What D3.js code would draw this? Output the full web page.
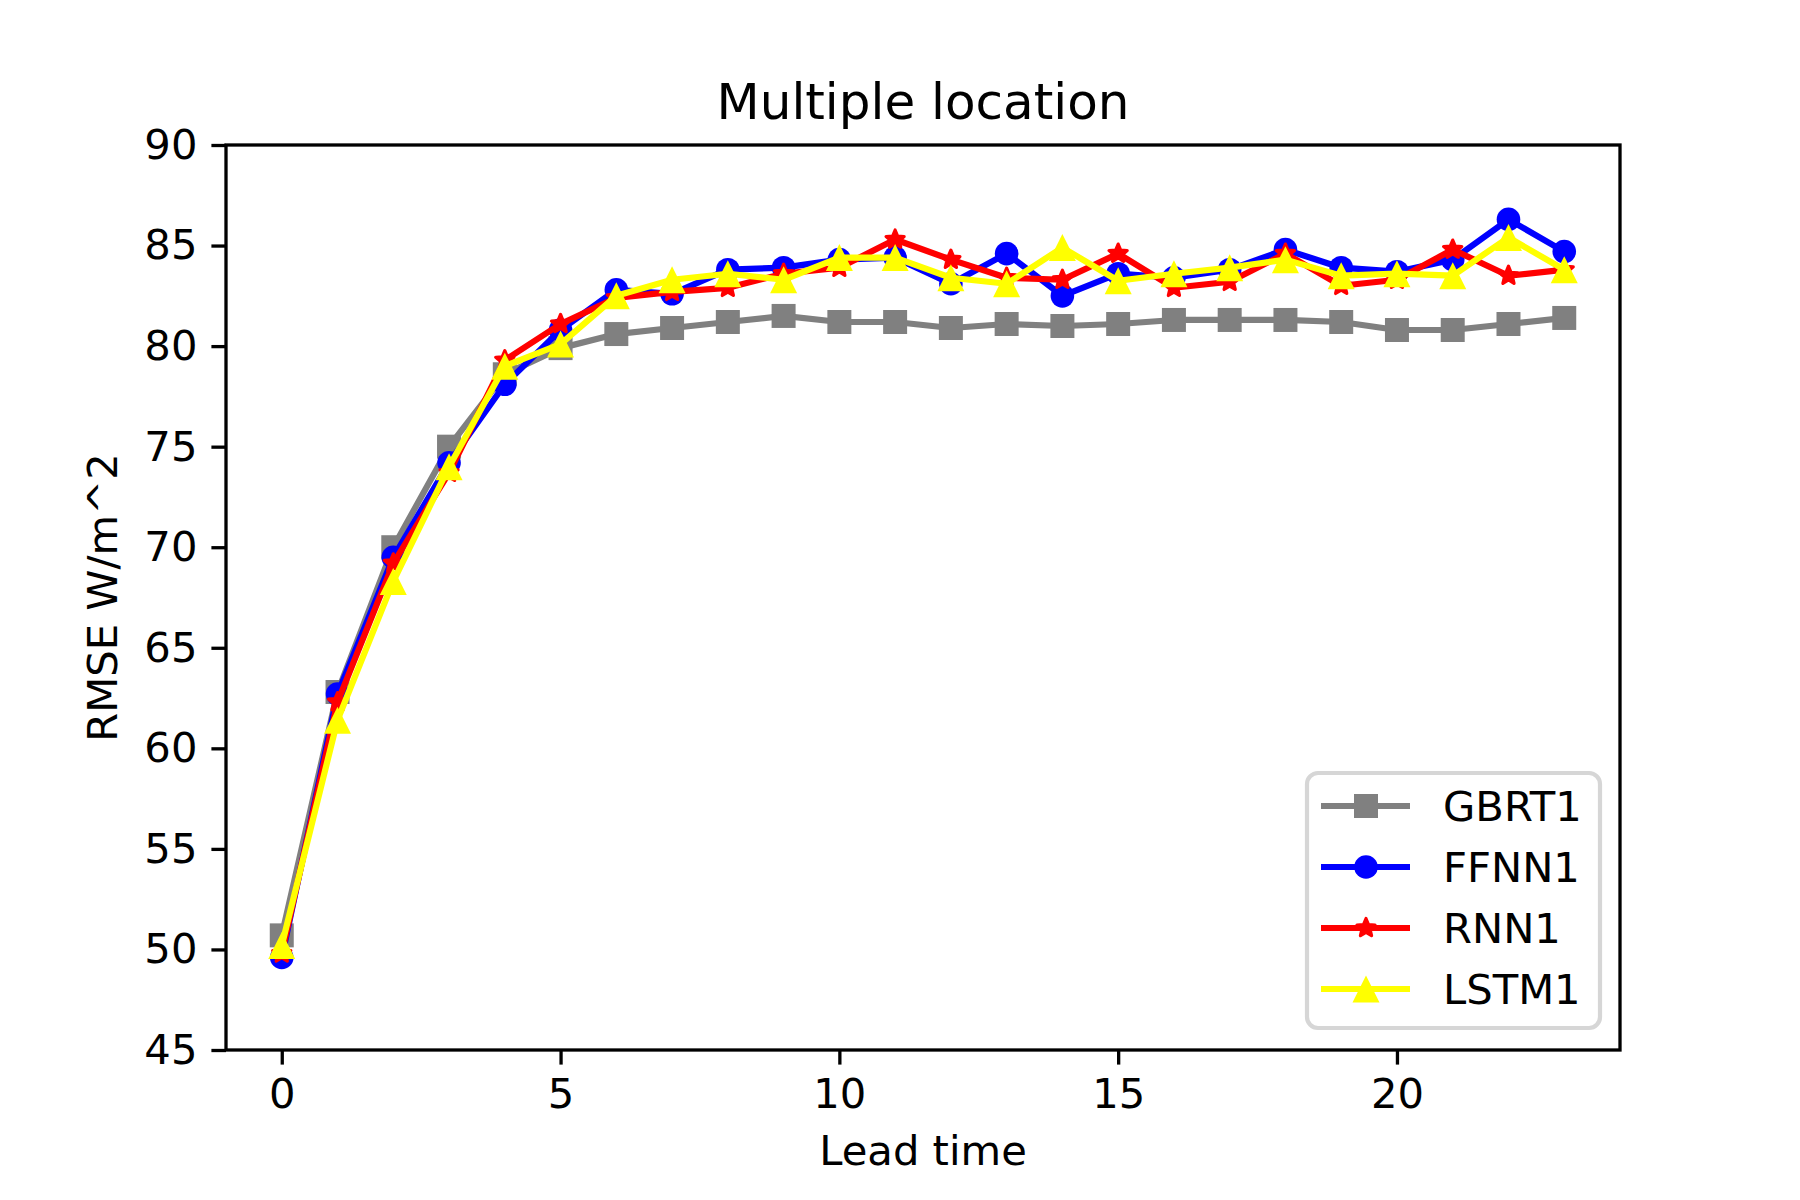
<!DOCTYPE html>
<html>
<head>
<meta charset="utf-8">
<script src="https://cdn.jsdelivr.net/npm/d3@7"></script>
<style>
  html, body { margin: 0; padding: 0; background: #ffffff; }
  svg { display: block; font-family: "DejaVu Sans", sans-serif; }
</style>
</head>
<body>
<svg id="chart" width="1800" height="1200"></svg>
<script>
const leadTimes = d3.range(0, 24);
const gbrt1 = [50.7, 62.8, 70.0, 75.0, 78.6, 79.9, 80.6, 80.9, 81.2, 81.5, 81.2, 81.2, 80.9, 81.1, 81.0, 81.1, 81.3, 81.3, 81.3, 81.2, 80.8, 80.8, 81.1, 81.4];
const ffnn1 = [49.6, 62.7, 69.5, 74.2, 78.1, 80.8, 82.8, 82.6, 83.8, 83.9, 84.3, 84.4, 83.1, 84.6, 82.5, 83.6, 83.4, 83.8, 84.8, 83.9, 83.7, 84.3, 86.3, 84.7];
const rnn1  = [49.8, 62.3, 69.2, 73.7, 79.3, 81.1, 82.4, 82.7, 82.9, 83.6, 83.9, 85.3, 84.3, 83.4, 83.3, 84.6, 82.9, 83.2, 84.6, 83.0, 83.3, 84.8, 83.5, 83.8];
const lstm1 = [50.2, 61.4, 68.3, 74.0, 79.0, 80.1, 82.5, 83.3, 83.6, 83.3, 84.4, 84.4, 83.4, 83.1, 84.9, 83.25, 83.6, 83.9, 84.3, 83.5, 83.6, 83.5, 85.4, 83.8];
const seriesNames = ["GBRT1", "FFNN1", "RNN1", "LSTM1"];
const seriesColors = ["#808080", "#0000ff", "#ff0000", "#ffff00"];
const seriesMarkers = ["square", "circle", "star", "triangle"];
const xTicks = [0, 5, 10, 15, 20];
const yTicks = [45, 50, 55, 60, 65, 70, 75, 80, 85, 90];
const titleText = "Multiple location";
const xLabelText = "Lead time";
const yLabelText = "RMSE W/m^2";

const seriesData = [gbrt1, ffnn1, rnn1, lstm1];

const W = 1800, H = 1200;
const L = 226, R = 1620, T = 145, B = 1050;
const svg = d3.select("#chart");

const x = d3.scaleLinear().domain([-1, 24]).range([L, R]);
const y = d3.scaleLinear().domain([45, 90]).range([B, T]);

function markerPath(type) {
  if (type === "square") { const s = 12; return `M${-s},${-s}H${s}V${s}H${-s}Z`; }
  if (type === "circle") { const r = 11.8; return `M${r},0A${r},${r} 0 1,1 ${-r},0A${r},${r} 0 1,1 ${r},0Z`; }
  if (type === "triangle") { const s = 13.5; return `M0,${-s}L${s},${s}L${-s},${s}Z`; }
  if (type === "star") {
    const ro = 9.5, ri = ro * 0.45; let p = "";
    for (let i = 0; i < 10; i++) {
      const a = -Math.PI / 2 + i * Math.PI / 5;
      const rr = i % 2 === 0 ? ro : ri;
      p += (i === 0 ? "M" : "L") + (rr * Math.cos(a)).toFixed(2) + "," + (rr * Math.sin(a)).toFixed(2);
    }
    return p + "Z";
  }
}
function markerStroke(type) { return type === "star" ? 3.2 : 0; }

// axes frame background
svg.append("rect").attr("x", L).attr("y", T).attr("width", R - L).attr("height", B - T).attr("fill", "#ffffff");

// series
const plot = svg.append("g");
const line = d3.line().x((d, i) => x(leadTimes[i])).y(d => y(d));
seriesData.forEach((vals, k) => {
  const g = plot.append("g");
  g.append("path").datum(vals).attr("d", line)
    .attr("fill", "none").attr("stroke", seriesColors[k]).attr("stroke-width", 6.2)
    .attr("stroke-linejoin", "round").attr("stroke-linecap", "square");
  g.selectAll("path.m").data(vals).join("path").attr("class", "m")
    .attr("d", markerPath(seriesMarkers[k]))
    .attr("transform", (d, i) => `translate(${x(leadTimes[i])},${y(d)})`)
    .attr("fill", seriesColors[k])
    .attr("stroke", seriesColors[k]).attr("stroke-width", markerStroke(seriesMarkers[k]))
    .attr("stroke-linejoin", "round");
});

// spines
svg.append("rect").attr("x", L).attr("y", T).attr("width", R - L).attr("height", B - T)
  .attr("fill", "none").attr("stroke", "#000").attr("stroke-width", 3.3);

// axes
const xAxis = d3.axisBottom(x).tickValues(xTicks).tickSize(14.6).tickPadding(14).tickFormat(d3.format("d"));
const gx = svg.append("g").attr("transform", `translate(0,${B})`).call(xAxis);
gx.select(".domain").remove();
gx.selectAll(".tick line").attr("stroke", "#000").attr("stroke-width", 3.3);
gx.selectAll(".tick text").attr("font-size", 41.7).attr("fill", "#000").attr("font-family", "DejaVu Sans");

const yAxis = d3.axisLeft(y).tickValues(yTicks).tickSize(14.6).tickPadding(14).tickFormat(d3.format("d"));
const gy = svg.append("g").attr("transform", `translate(${L},0)`).call(yAxis);
gy.select(".domain").remove();
gy.selectAll(".tick line").attr("stroke", "#000").attr("stroke-width", 3.3);
gy.selectAll(".tick text").attr("font-size", 41.7).attr("fill", "#000").attr("font-family", "DejaVu Sans");

// labels
svg.append("text").attr("x", (L + R) / 2).attr("y", 119).attr("text-anchor", "middle")
  .attr("font-size", 50).attr("fill", "#000").text(titleText);
svg.append("text").attr("x", (L + R) / 2).attr("y", 1165).attr("text-anchor", "middle")
  .attr("font-size", 41.7).attr("fill", "#000").text(xLabelText);
svg.append("text").attr("transform", `translate(117,${(T + B) / 2}) rotate(-90)`).attr("text-anchor", "middle")
  .attr("font-size", 41.7).attr("fill", "#000").text(yLabelText);

// legend
const lg = svg.append("g");
lg.append("rect").attr("x", 1307).attr("y", 773).attr("width", 293).attr("height", 255)
  .attr("rx", 11).attr("ry", 11).attr("fill", "#ffffff").attr("fill-opacity", 0.8)
  .attr("stroke", "#d6d6d6").attr("stroke-width", 4.2);
seriesNames.forEach((name, k) => {
  const cy = 806 + k * 61;
  lg.append("line").attr("x1", 1321).attr("x2", 1410).attr("y1", cy).attr("y2", cy)
    .attr("stroke", seriesColors[k]).attr("stroke-width", 6.2);
  lg.append("path").attr("d", markerPath(seriesMarkers[k])).attr("transform", `translate(1366,${cy})`)
    .attr("fill", seriesColors[k])
    .attr("stroke", seriesColors[k]).attr("stroke-width", markerStroke(seriesMarkers[k]))
    .attr("stroke-linejoin", "round");
  lg.append("text").attr("x", 1443).attr("y", cy + 15).attr("font-size", 41.7).attr("fill", "#000").text(name);
});
</script>
</body>
</html>
